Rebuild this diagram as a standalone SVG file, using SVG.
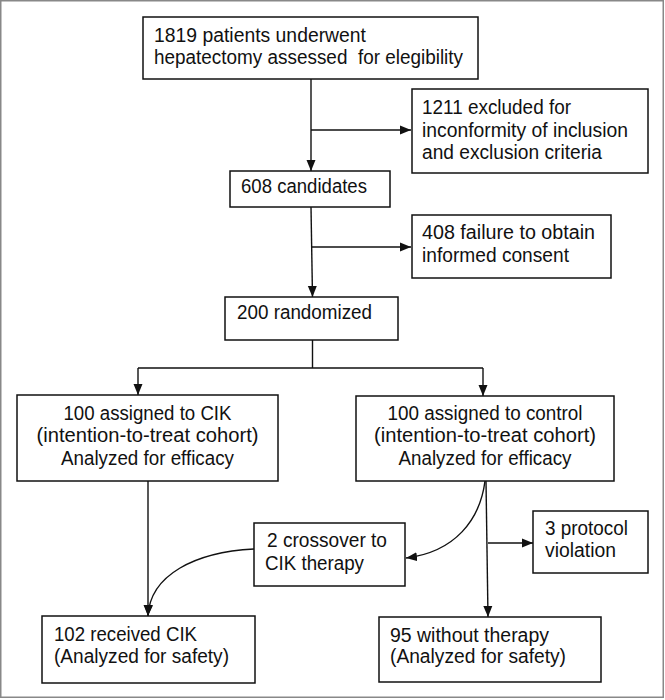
<svg xmlns="http://www.w3.org/2000/svg" width="665" height="700" viewBox="0 0 665 700">
<defs>
<marker id="ah" markerUnits="userSpaceOnUse" markerWidth="12" markerHeight="10" refX="11" refY="5" orient="auto">
<path d="M0,0.5 L11,5 L0,9.5 Z" fill="#111"/>
</marker>
<style>
.box{fill:#fff;stroke:#111;stroke-width:1.5}
.t{font-family:"Liberation Sans",Arial,sans-serif;font-size:19.5px;fill:#111}
.c{text-anchor:middle}
.ln{fill:none;stroke:#111;stroke-width:1.4}
.ar{marker-end:url(#ah)}
</style>
</defs>
<rect x="0.75" y="0.75" width="662.5" height="696.5" fill="#fff" stroke="#888" stroke-width="1.5"/>
<g id="connectors">
<path class="ln ar" d="M311,79 V171"/>
<path class="ln ar" d="M311,130 H411"/>
<path class="ln ar" d="M311,207 L312.5,297"/>
<path class="ln ar" d="M312,247 H411"/>
<path class="ln" d="M312.5,340 V368 M138,368 H483"/>
<path class="ln ar" d="M138,368 V395"/>
<path class="ln ar" d="M483,368 V396"/>
<path class="ln ar" d="M148,481 V616"/>
<path class="ln ar" d="M485,481 C480,520 455,552 406,558"/>
<path class="ln ar" d="M254,549 C195,552 150,575 148,616"/>
<path class="ln ar" d="M486,481 L488,617"/>
<path class="ln ar" d="M488,543 H533"/>
</g>
<g id="n1">
<rect class="box" x="143" y="17" width="335" height="62"/>
<text class="t" x="154" y="42" textLength="212" lengthAdjust="spacingAndGlyphs">1819 patients underwent</text>
<text class="t" x="154" y="64" textLength="309" lengthAdjust="spacingAndGlyphs">hepatectomy assessed&#160; for elegibility</text>
</g>
<g id="n2">
<rect class="box" x="412" y="89" width="236" height="84"/>
<text class="t" x="422" y="114" textLength="149" lengthAdjust="spacingAndGlyphs">1211 excluded for</text>
<text class="t" x="422" y="137" textLength="206" lengthAdjust="spacingAndGlyphs">inconformity of inclusion</text>
<text class="t" x="422" y="159" textLength="180" lengthAdjust="spacingAndGlyphs">and exclusion criteria</text>
</g>
<g id="n3">
<rect class="box" x="230" y="171" width="160" height="36"/>
<text class="t" x="241" y="193" textLength="126" lengthAdjust="spacingAndGlyphs">608 candidates</text>
</g>
<g id="n4">
<rect class="box" x="412" y="215" width="199" height="63"/>
<text class="t" x="422" y="239" textLength="173" lengthAdjust="spacingAndGlyphs">408 failure to obtain</text>
<text class="t" x="422" y="262" textLength="147" lengthAdjust="spacingAndGlyphs">informed consent</text>
</g>
<g id="n5">
<rect class="box" x="225" y="297" width="173" height="43"/>
<text class="t" x="237" y="319" textLength="135" lengthAdjust="spacingAndGlyphs">200 randomized</text>
</g>
<g id="n6">
<rect class="box" x="17" y="395" width="261" height="86"/>
<text class="t c" x="147.5" y="420" textLength="168" lengthAdjust="spacingAndGlyphs">100 assigned to CIK</text>
<text class="t c" x="147.5" y="442" textLength="222" lengthAdjust="spacingAndGlyphs">(intention-to-treat cohort)</text>
<text class="t c" x="147.5" y="465" textLength="173" lengthAdjust="spacingAndGlyphs">Analyzed for efficacy</text>
</g>
<g id="n7">
<rect class="box" x="356" y="396" width="258" height="85"/>
<text class="t c" x="485" y="420" textLength="195" lengthAdjust="spacingAndGlyphs">100 assigned to control</text>
<text class="t c" x="485" y="442" textLength="222" lengthAdjust="spacingAndGlyphs">(intention-to-treat cohort)</text>
<text class="t c" x="485" y="465" textLength="173" lengthAdjust="spacingAndGlyphs">Analyzed for efficacy</text>
</g>
<g id="n8">
<rect class="box" x="254" y="523" width="151" height="63"/>
<text class="t" x="267" y="547" textLength="120" lengthAdjust="spacingAndGlyphs">2 crossover to</text>
<text class="t" x="265" y="570" textLength="99" lengthAdjust="spacingAndGlyphs">CIK therapy</text>
</g>
<g id="n9">
<rect class="box" x="533" y="511" width="115" height="62"/>
<text class="t" x="545" y="535" textLength="83" lengthAdjust="spacingAndGlyphs">3 protocol</text>
<text class="t" x="545" y="557" textLength="71" lengthAdjust="spacingAndGlyphs">violation</text>
</g>
<g id="n10">
<rect class="box" x="42" y="616" width="213" height="67"/>
<text class="t" x="54" y="641" textLength="143" lengthAdjust="spacingAndGlyphs">102 received CIK</text>
<text class="t" x="54" y="663" textLength="175" lengthAdjust="spacingAndGlyphs">(Analyzed for safety)</text>
</g>
<g id="n11">
<rect class="box" x="379" y="617" width="222" height="65"/>
<text class="t" x="390" y="642" textLength="159" lengthAdjust="spacingAndGlyphs">95 without therapy</text>
<text class="t" x="390" y="663" textLength="176" lengthAdjust="spacingAndGlyphs">(Analyzed for safety)</text>
</g>
</svg>
